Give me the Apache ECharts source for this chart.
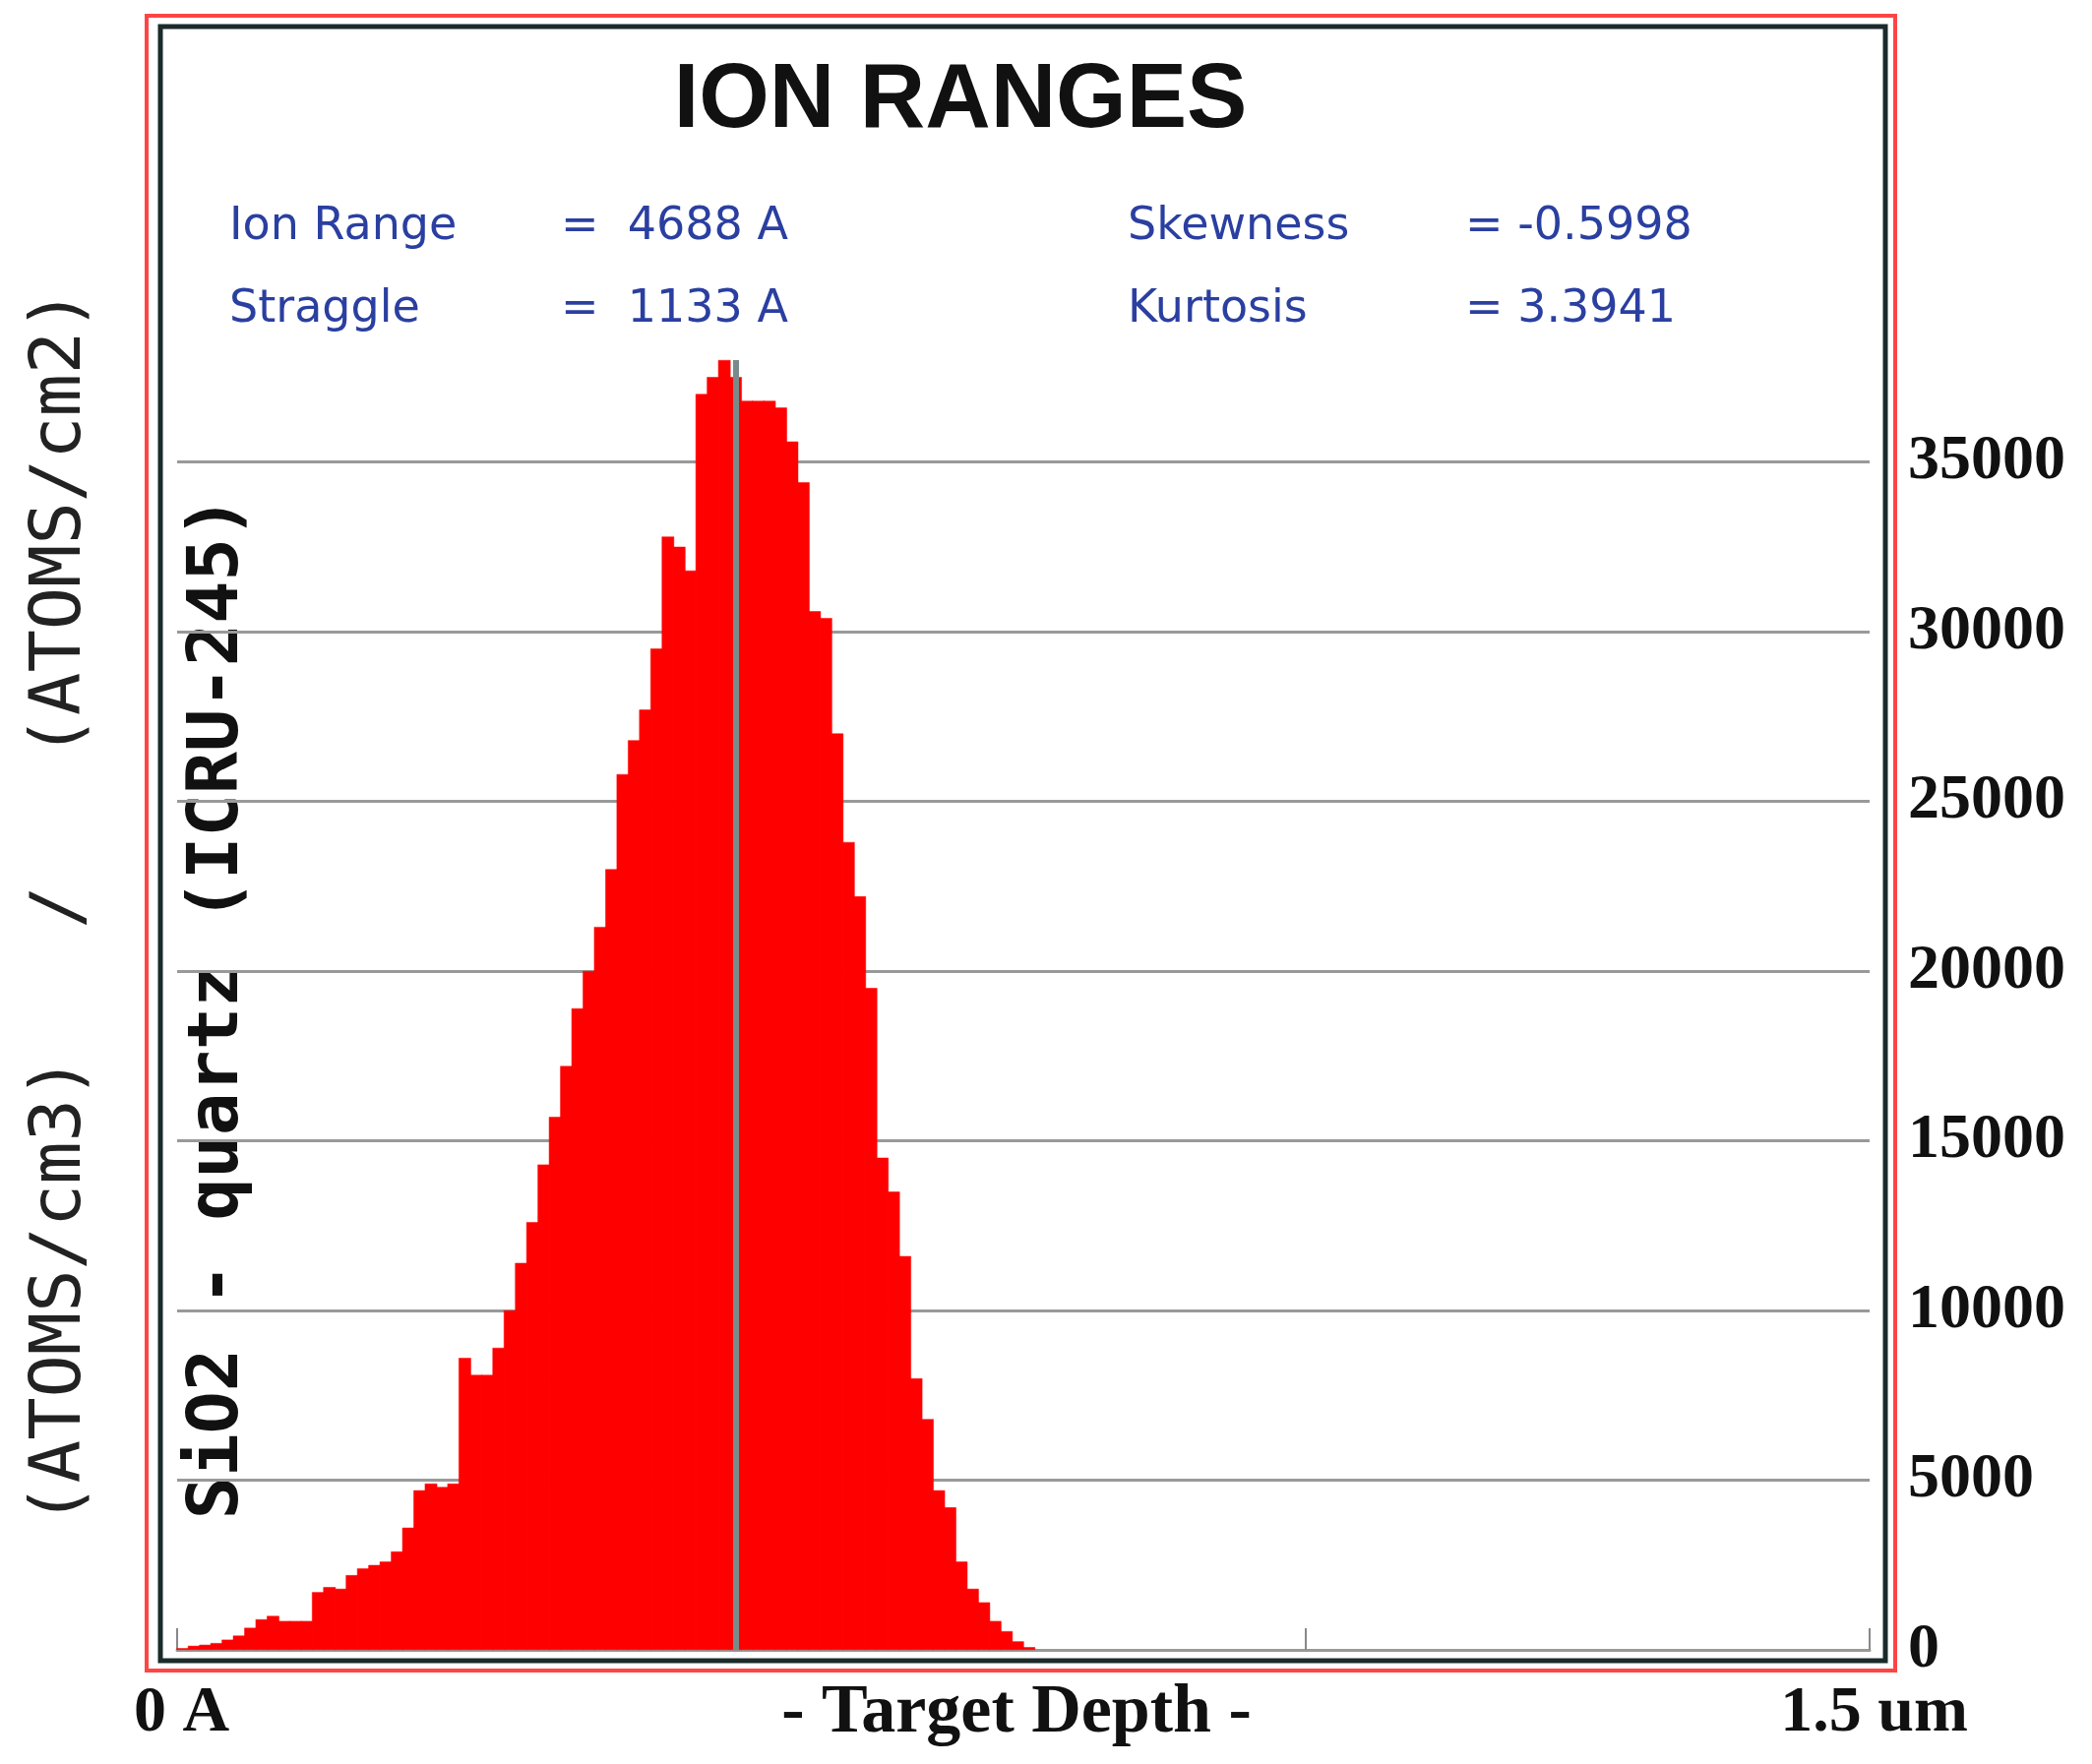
<!DOCTYPE html>
<html>
<head>
<meta charset="utf-8">
<script src="https://cdn.jsdelivr.net/npm/echarts@6/dist/echarts.min.js"></script>
<style>html,body{margin:0;padding:0;background:#fff}#main{width:2126px;height:1793px}</style>
</head>
<body>
<div id="main"></div>
<script>
// depth bins of 100 A, value = atoms/cm3 per atoms/cm2
const binWidth = 100;
const counts = [50, 120, 150, 200, 300, 420, 650, 900, 1000, 850,
  850, 850, 1700, 1850, 1800, 2200, 2400, 2500, 2600, 2900,
  3600, 4700, 4900, 4800, 4900, 8600, 8100, 8100, 8900, 10000,
  11400, 12600, 14300, 15700, 17200, 18900, 20000, 21300, 23000, 25800,
  26800, 27700, 29500, 32800, 32500, 31800, 37000, 37500, 38000, 37500,
  36800, 36800, 36800, 36600, 35600, 34400, 30600, 30400, 27000, 23800,
  22200, 19500, 14500, 13500, 11600, 8000, 6800, 4700, 4200, 2600,
  1800, 1400, 850, 550, 250, 80];
const yTicks = [0, 5000, 10000, 15000, 20000, 25000, 30000, 35000];
const peakLine = 4950;
const stats = [
  ['Ion Range', '=  4688 A', 'Skewness', '= -0.5998'],
  ['Straggle', '=  1133 A', 'Kurtosis', '= 3.3941']
];

const chart = echarts.init(document.getElementById('main'));
const blue = '#2a3fa0';
const graphic = [
  { type: 'rect', shape: { x: 149, y: 16, width: 1777, height: 1682 }, style: { fill: 'none', stroke: '#f44', lineWidth: 4 } },
  { type: 'rect', shape: { x: 163, y: 27, width: 1753, height: 1661 }, style: { fill: 'none', stroke: '#1b2a2a', lineWidth: 5 } },
  { type: 'text', style: { text: 'ION RANGES', x: 976, y: 104, align: 'center', verticalAlign: 'middle', font: 'bold 92px "Liberation Sans", Arial', fill: '#111' } },
  { type: 'text', style: { text: '(ATOMS/cm3)   /   (ATOMS/cm2)', x: 62, y: 922, align: 'center', verticalAlign: 'middle', font: '72px "DejaVu Sans Mono", monospace', fill: '#222' }, rotation: Math.PI / 2, originX: 62, originY: 922 },
  { type: 'text', style: { text: 'SiO2 - quartz (ICRU-245)', x: 222, y: 1024, align: 'center', verticalAlign: 'middle', font: 'bold 72px "DejaVu Sans Mono", monospace', fill: '#111' }, rotation: Math.PI / 2, originX: 222, originY: 1024 },
  { type: 'text', style: { text: 'Silicon', x: 795, y: 1454, align: 'center', verticalAlign: 'middle', font: 'bold 64px "DejaVu Sans Mono", monospace', fill: '#111' }, rotation: Math.PI / 2, originX: 795, originY: 1454 },
  { type: 'text', style: { text: '0 A', x: 136, y: 1742, verticalAlign: 'middle', font: 'bold 66px "Liberation Serif", serif', fill: '#111' } },
  { type: 'text', style: { text: '- Target Depth -', x: 1033, y: 1742, align: 'center', verticalAlign: 'middle', font: 'bold 70px "Liberation Serif", serif', fill: '#111' } },
  { type: 'text', style: { text: '1.5 um', x: 2000, y: 1742, align: 'right', verticalAlign: 'middle', font: 'bold 66px "Liberation Serif", serif', fill: '#111' } }
];
const colX = [233, 570, 1146, 1489];
stats.forEach((row, r) => row.forEach((t, c) => graphic.push({
  type: 'text', style: { text: t, x: colX[c], y: 231 + r * 84, verticalAlign: 'middle', font: '46px "DejaVu Sans", sans-serif', fill: blue }
})));

chart.setOption({
  animation: false,
  backgroundColor: '#fff',
  grid: { left: 180, right: 226, top: 366, bottom: 116 },
  xAxis: {
    type: 'value', min: 0, max: 15000, interval: 10000,
    axisLine: { show: true, lineStyle: { color: '#999', width: 3 } },
    axisTick: { show: true, inside: true, length: 22, lineStyle: { color: '#888', width: 2 } },
    axisLabel: { show: false },
    splitLine: { show: false }
  },
  yAxis: {
    type: 'value', position: 'right', min: 0, max: 38000, interval: 5000,
    axisLine: { show: false }, axisTick: { show: false },
    axisLabel: {
      margin: 39, color: '#111', fontSize: 64, fontWeight: 'bold', fontFamily: '"Liberation Serif", serif',
      showMaxLabel: false,
      formatter: v => yTicks.includes(v) ? String(v) : ''
    },
    splitLine: { showMaxLine: false, lineStyle: { color: '#999', width: 3 } }
  },
  series: [{
    type: 'bar',
    barWidth: 12.6,
    itemStyle: { color: '#ff0000', borderColor: '#ff0000', borderWidth: 0.5 },
    data: counts.map((v, i) => [i * binWidth + binWidth / 2, v]),
    markLine: {
      silent: true, symbol: 'none', label: { show: false },
      lineStyle: { color: '#7a8a8a', width: 6, type: 'solid' },
      data: [{ xAxis: peakLine }]
    }
  }],
  graphic: graphic
});
</script>
</body>
</html>
